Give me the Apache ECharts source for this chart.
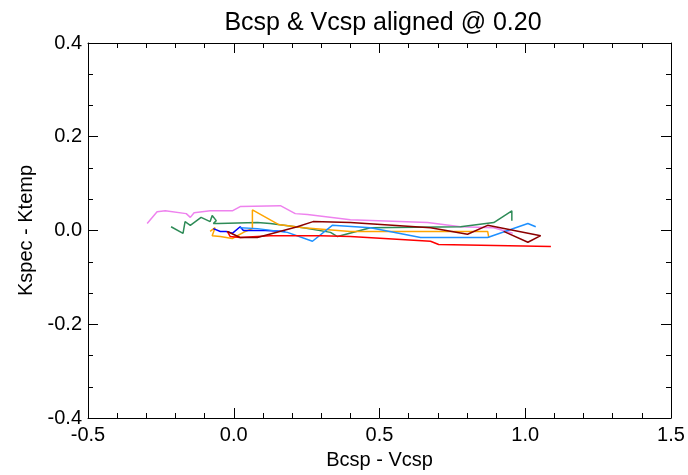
<!DOCTYPE html>
<html>
<head>
<meta charset="utf-8">
<script src="https://cdn.jsdelivr.net/npm/echarts@6/dist/echarts.min.js"></script>
<style>
html,body{margin:0;padding:0;background:#fff;}
#chart{width:688px;height:475px;}
</style>
</head>
<body>
<div id="chart"></div>
<script>
const titleText = 'Bcsp & Vcsp aligned @ 0.20';
const xName = 'Bcsp - Vcsp';
const yName = 'Kspec - Ktemp';
const xTicks = [-0.5, 0.0, 0.5, 1.0, 1.5];
const yTicks = [-0.4, -0.2, 0.0, 0.2, 0.4];

const violetX = [-0.297,-0.263,-0.235,-0.163,-0.149,-0.136,-0.081,-0.005,0.022,0.160,0.211,0.253,0.400,0.665,0.778,0.892,0.957];
const violetY = [0.015,0.040,0.042,0.036,0.028,0.038,0.042,0.042,0.051,0.053,0.036,0.034,0.023,0.017,0.008,0.006,-0.006];

const greenX = [-0.215,-0.174,-0.167,-0.149,-0.112,-0.081,-0.074,-0.060,-0.070,-0.053,0.081,0.125,0.239,0.332,0.356,0.469,0.778,0.892,0.954,0.954];
const greenY = [0.008,-0.006,0.019,0.011,0.028,0.019,0.032,0.021,0.015,0.015,0.017,0.015,0.006,-0.004,-0.013,0.006,0.008,0.017,0.042,0.021];

const orangeX = [-0.081,-0.064,-0.074,-0.046,-0.005,0.040,0.064,0.064,0.153,0.239,0.400,0.871,0.875];
const orangeY = [-0.002,0.006,-0.011,-0.013,-0.017,-0.002,0.004,0.044,0.013,0.006,-0.002,-0.002,-0.015];

const blueX = [-0.070,-0.046,-0.026,-0.005,0.022,0.033,0.108,0.177];
const blueY = [0.004,-0.002,-0.002,-0.006,0.008,0.000,0.000,-0.002];

const dodgerX = [0.022,0.081,0.184,0.270,0.338,0.469,0.641,0.871,1.009,1.036];
const dodgerY = [0.006,0.004,-0.004,-0.023,0.011,0.006,-0.015,-0.015,0.015,0.008];

const redX = [-0.022,-0.012,0.022,0.125,0.297,0.400,0.675,0.703,1.088];
const redY = [-0.002,-0.013,-0.015,-0.011,-0.011,-0.013,-0.023,-0.030,-0.034];

const darkredX = [-0.022,-0.002,0.022,0.081,0.218,0.272,0.400,0.675,0.802,0.871,1.053,1.009,0.926];
const darkredY = [-0.002,-0.008,-0.015,-0.015,0.008,0.019,0.017,0.006,-0.008,0.011,-0.011,-0.025,-0.002];

const seriesDefs = [
  {name:'violet', xs:violetX, ys:violetY, color:'#EE82EE'},
  {name:'green', xs:greenX, ys:greenY, color:'#2E8B57'},
  {name:'orange', xs:orangeX, ys:orangeY, color:'#FFA500'},
  {name:'blue', xs:blueX, ys:blueY, color:'#0000FF'},
  {name:'dodger', xs:dodgerX, ys:dodgerY, color:'#1E90FF'},
  {name:'red', xs:redX, ys:redY, color:'#FF0000'},
  {name:'darkred', xs:darkredX, ys:darkredY, color:'#8B0000'}
];

const FONT = '"Liberation Sans", Arial, Helvetica, sans-serif';
const chart = echarts.init(document.getElementById('chart'), null, {renderer:'canvas'});

function axisCommon(min, max, interval, split, showLabel) {
  return {
    type:'value', min:min, max:max, interval:interval,
    axisLine:{show:true, onZero:false, lineStyle:{color:'#000', width:1}},
    axisTick:{show:true, inside:true, length:10, lineStyle:{color:'#000', width:1}},
    minorTick:{show:true, splitNumber:split, length:5, lineStyle:{color:'#000', width:1}},
    splitLine:{show:false},
    axisLabel:{show:showLabel, color:'#000', fontSize:20, fontFamily:FONT,
      formatter: v => v.toFixed(1)}
  };
}

const xMain = Object.assign(axisCommon(xTicks[0], xTicks[xTicks.length-1], 0.5, 5, true), {
  position:'bottom', name:xName, nameLocation:'middle', nameGap:32,
  nameTextStyle:{color:'#000', fontSize:20, fontFamily:FONT}
});
xMain.axisLabel.margin = 7;
const xTop = Object.assign(axisCommon(xTicks[0], xTicks[xTicks.length-1], 0.5, 5, false), {position:'top'});
const yMain = Object.assign(axisCommon(yTicks[0], yTicks[yTicks.length-1], 0.2, 3, true), {
  position:'left', name:yName, nameLocation:'middle', nameGap:51,
  nameTextStyle:{color:'#000', fontSize:20, fontFamily:FONT}
});
yMain.axisLabel.margin = 6;
const yRight = Object.assign(axisCommon(yTicks[0], yTicks[yTicks.length-1], 0.2, 3, false), {position:'right'});

chart.setOption({
  backgroundColor:'#fff',
  animation:false,
  title:{text:titleText, left:378, textAlign:'center', top:6,
    textStyle:{color:'#000', fontSize:25, fontWeight:'normal', fontFamily:FONT}},
  grid:{left:88, right:17, top:43, bottom:54, containLabel:false},
  xAxis:[xMain, xTop],
  yAxis:[yMain, yRight],
  series: seriesDefs.map(s => ({
    type:'line', name:s.name, xAxisIndex:0, yAxisIndex:0,
    data: s.xs.map((x,i) => [x, s.ys[i]]),
    showSymbol:false, symbol:'none', smooth:false,
    lineStyle:{color:s.color, width:1.5},
    itemStyle:{color:s.color}
  }))
});
</script>
</body>
</html>
